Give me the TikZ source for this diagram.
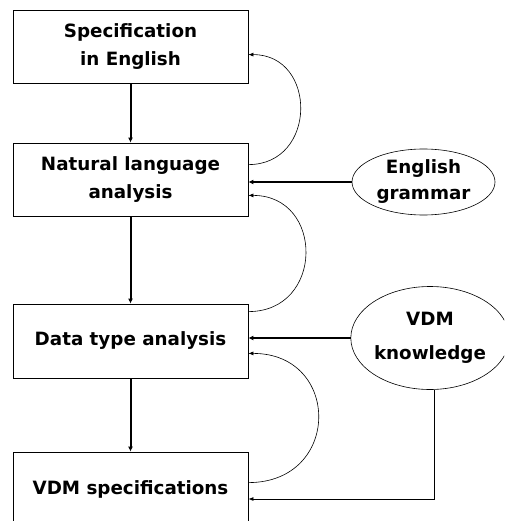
\documentclass[tikz,border=0pt]{standalone}
\usepackage{fontspec}
\setmainfont{DejaVu Sans}
\usetikzlibrary{shapes.geometric, arrows.meta, positioning, calc}

\tikzset{
  stagebox/.style={draw, line width=0.8pt, rectangle, minimum width=235pt, minimum height=73pt, inner sep=0pt, align=center,
    font=\bfseries\fontsize{18.3}{28}\selectfont},
  source/.style={draw, line width=0.6pt, ellipse, inner sep=0pt, align=center,
    font=\bfseries\fontsize{18.3}{26}\selectfont},
  flow/.style={line width=2pt, -{Latex[length=5pt,width=5pt]}},
  loopback/.style={line width=0.6pt, -{Latex[length=5pt,width=4pt]}},
  feed/.style={line width=0.8pt, -{Latex[length=5pt,width=4pt]}}
}

\begin{document}
\begin{tikzpicture}[x=1pt, y=1pt]
  % Page frame
  \useasboundingbox (0,0) rectangle (504,-521);
  \clip (0,0) rectangle (504,-521);

  % Stages
  \node[stagebox] (spec) at (130.5,-46.5) {Specification\\in English};
  \node[stagebox] (nla) at (130.5,-179.5) {Natural language\\analysis};
  \node[stagebox, minimum height=74pt] (dta) at (130.5,-341) {Data type analysis};
  \node[stagebox, minimum height=74pt] (vdms) at (130.5,-489) {VDM specifications};

  % Knowledge sources
  \node[source, minimum width=143pt, minimum height=66pt] (eg) at (423.5,-182) {English\\grammar};
  \node[source, minimum width=155pt, minimum height=103pt, font=\bfseries\fontsize{18.3}{34}\selectfont] (vdmk) at (430,-338) {VDM\\knowledge};

  % Main flow
  \draw[flow] (spec) -- (nla);
  \draw[flow] (nla) -- (dta);
  \draw[flow] (dta) -- (vdms);

  % Feedback loops
  \draw[loopback] ([yshift=-22pt]nla.north east) .. controls +(69,0) and +(69,0) .. ([yshift=-45pt]spec.north east);
  \draw[loopback] ([yshift=-8pt]dta.north east) .. controls +(76,0) and +(76,0) .. ([yshift=21pt]nla.south east);
  \draw[loopback] ([yshift=-31pt]vdms.north east) .. controls +(93,0) and +(93,0) .. ([yshift=25pt]dta.south east);

  % Inputs
  \draw[flow] (eg.west) -- (eg.west -| nla.east);
  \draw[flow] (vdmk.west) -- (vdmk.west -| dta.east);
  \draw[feed] ([xshift=4pt]vdmk.south) |- ([yshift=-10pt]vdms.east);
\end{tikzpicture}
\end{document}
